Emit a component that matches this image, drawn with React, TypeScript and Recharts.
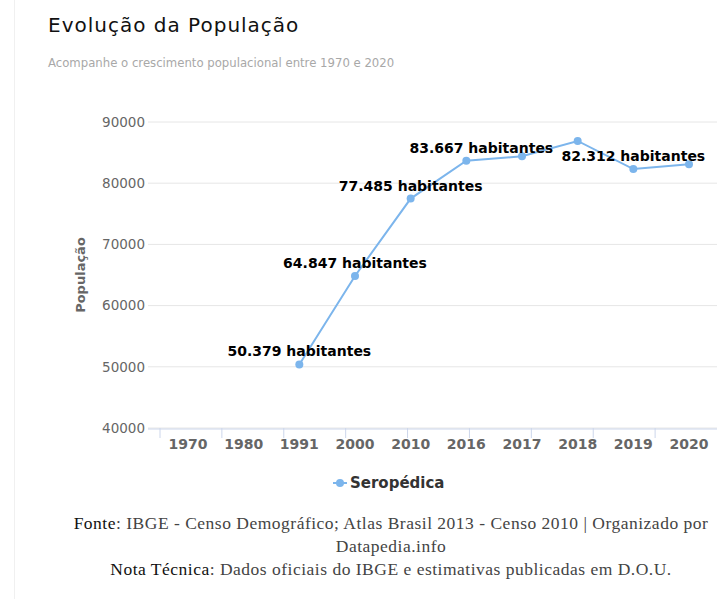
import { CartesianGrid, LabelList, Line, LineChart, XAxis, YAxis } from "recharts";

const YEARS = ["1970", "1980", "1991", "2000", "2010", "2016", "2017", "2018", "2019", "2020"];
const POPULATION: (number | null)[] = [null, null, 50379, 64847, 77485, 83667, 84400, 86900, 82312, 83100];
const LABELED_YEARS = ["1991", "2000", "2010", "2016", "2019"];
const Y_TICKS = [40000, 50000, 60000, 70000, 80000, 90000];
const SERIES_NAME = "Seropédica";

const TITLE = "Evolução da População";
const SUBTITLE = "Acompanhe o crescimento populacional entre 1970 e 2020";

const LINE_COLOR = "#7cb5ec";
const SANS = "'DejaVu Sans', sans-serif";
const SERIF = "'Liberation Serif', serif";

const data = YEARS.map((year, i) => ({ year, value: POPULATION[i] }));
const boundaryTicks = YEARS.map((_, i) => i).concat(YEARS.length);

const formatThousands = (n: number) =>
  String(Math.round(n)).replace(/\B(?=(\d{3})+(?!\d))/g, ".");

// Highcharts nudged the 2016 label a bit to the right
const LABEL_NUDGE: Record<string, number> = { "2016": 15 };

const PointLabel = (props: any) => {
  const { x, y, value, index } = props;
  const year = YEARS[index];
  if (value == null || !LABELED_YEARS.includes(year)) return null;
  return (
    <text
      x={x + (LABEL_NUDGE[year] ?? 0)}
      y={y - 8}
      textAnchor="middle"
      fontFamily={SANS}
      fontWeight="bold"
      fontSize={14}
      fill="#000"
    >
      {formatThousands(value)} habitantes
    </text>
  );
};

const YTitle = (props: any) => {
  const { viewBox } = props;
  const cx = 80;
  const cy = viewBox.y + viewBox.height / 2;
  return (
    <text
      x={cx}
      y={cy}
      transform={`rotate(-90 ${cx} ${cy})`}
      textAnchor="middle"
      dominantBaseline="central"
      fontFamily={SANS}
      fontWeight="bold"
      fontSize={13}
      fill="#666"
    >
      População
    </text>
  );
};

export default function App() {
  return (
    <div style={{ position: "absolute", left: 0, top: 0, width: 717, height: 599, background: "#fff" }}>
      <div style={{ position: "absolute", left: 14, top: 0, width: 1, height: 599, background: "#f0f0f0" }} />
      <div
        style={{
          position: "absolute",
          left: 48,
          top: 15,
          fontFamily: SANS,
          fontSize: 20,
          lineHeight: "20px",
          letterSpacing: 1,
          color: "#111",
          whiteSpace: "nowrap",
        }}
      >
        {TITLE}
      </div>
      <div
        style={{
          position: "absolute",
          left: 48,
          top: 57,
          fontFamily: SANS,
          fontSize: 11.7,
          lineHeight: "12px",
          color: "#a8a8a8",
          whiteSpace: "nowrap",
        }}
      >
        {SUBTITLE}
      </div>

      <div style={{ position: "absolute", left: 0, top: 0 }}>
        <LineChart width={717} height={461} data={data} margin={{ top: 122, right: 0, bottom: 0, left: 0 }}>
          <CartesianGrid vertical={false} stroke="#e6e6e6" xAxisId="cat" />
          <XAxis
            xAxisId="bounds"
            type="number"
            domain={[0, YEARS.length]}
            ticks={boundaryTicks}
            allowDataOverflow
            padding={{ left: 12, right: 0 }}
            height={1}
            axisLine={false}
            tick={() => <g />}
            tickSize={10}
            tickLine={{ stroke: "#ccd6eb" }}
          />
          <XAxis
            xAxisId="cat"
            dataKey="year"
            height={32}
            interval={0}
            padding={{ left: 40, right: 28 }}
            axisLine={{ stroke: "#ccd6eb" }}
            tickLine={false}
            tickMargin={4}
            tick={{ fill: "#666", fontSize: 14, fontWeight: "bold", fontFamily: SANS }}
          />
          <YAxis
            domain={[40000, 90000]}
            ticks={Y_TICKS}
            width={148}
            axisLine={false}
            tickLine={false}
            tickSize={0}
            tickMargin={3}
            tick={{ fill: "#666", fontSize: 13.5, fontFamily: SANS }}
            label={<YTitle />}
          />
          <Line
            xAxisId="cat"
            type="linear"
            dataKey="value"
            name={SERIES_NAME}
            stroke={LINE_COLOR}
            strokeWidth={2}
            dot={{ r: 4, fill: LINE_COLOR, stroke: LINE_COLOR, strokeWidth: 0 }}
            isAnimationActive={false}
          >
            <LabelList dataKey="value" content={<PointLabel />} />
          </Line>
        </LineChart>
      </div>

      <div style={{ position: "absolute", left: 330, top: 472, height: 22, display: "flex", alignItems: "center" }}>
        <svg width={18} height={22}>
          <line x1={3} y1={11} x2={17} y2={11} stroke={LINE_COLOR} strokeWidth={2} />
          <circle cx={10} cy={11} r={4} fill={LINE_COLOR} />
        </svg>
        <span style={{ marginLeft: 2, fontFamily: SANS, fontWeight: "bold", fontSize: 15, color: "#333" }}>
          {SERIES_NAME}
        </span>
      </div>

      <div
        style={{
          position: "absolute",
          left: 65,
          top: 512,
          width: 652,
          textAlign: "center",
          fontFamily: SERIF,
          fontSize: 17.5,
          letterSpacing: 0.5,
          lineHeight: "23px",
          color: "#444",
          whiteSpace: "nowrap",
        }}
      >
        <span style={{ color: "#111" }}>Fonte</span>: IBGE - Censo Demográfico; Atlas Brasil 2013 - Censo 2010 |
        Organizado por
        <br />
        Datapedia.info
        <br />
        <span style={{ color: "#111" }}>Nota Técnica</span>: Dados oficiais do IBGE e estimativas publicadas em D.O.U.
      </div>
    </div>
  );
}
